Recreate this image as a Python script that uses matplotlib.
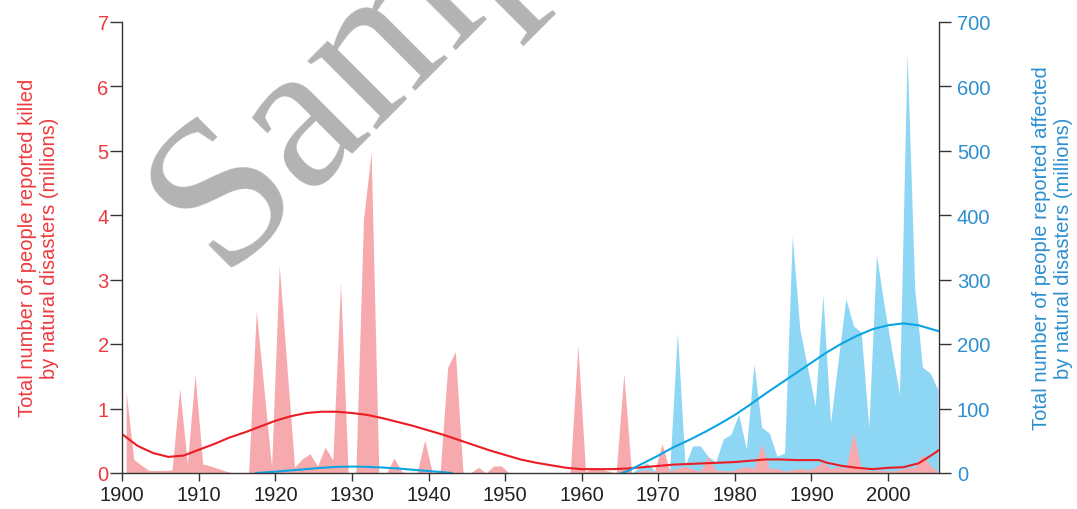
import numpy as np
import matplotlib.pyplot as plt

plt.rcParams['font.family'] = ['Liberation Sans', 'DejaVu Sans']

# anos (dados anuais, desenhados no meio do ano)
years = np.arange(1900, 2007)

# mortos (milhões) por ano, 1900-2006
killed = [
    1.26, 0.21, 0.12, 0.04, 0.04, 0.04, 0.05, 1.31, 0.14, 1.53,   # 1900s
    0.14, 0.11, 0.07, 0.03, 0.00, 0.00, 0.00, 2.51, 1.30, 0.09,   # 1910s
    3.22, 1.65, 0.09, 0.22, 0.30, 0.11, 0.40, 0.20, 2.95, 0.00,   # 1920s
    0.00, 3.93, 4.97, 0.00, 0.00, 0.23, 0.02, 0.00, 0.00, 0.51,   # 1930s
    0.00, 0.00, 1.64, 1.88, 0.00, 0.00, 0.09, 0.00, 0.11, 0.11,   # 1940s
    0.00, 0.00, 0.00, 0.00, 0.00, 0.00, 0.00, 0.00, 0.00, 1.98,   # 1950s
    0.02, 0.08, 0.06, 0.03, 0.00, 1.54, 0.00, 0.03, 0.05, 0.02,   # 1960s
    0.45, 0.03, 0.07, 0.11, 0.06, 0.03, 0.26, 0.04, 0.04, 0.03,   # 1970s
    0.07, 0.10, 0.07, 0.45, 0.07, 0.07, 0.03, 0.05, 0.07, 0.05,   # 1980s
    0.08, 0.17, 0.07, 0.10, 0.07, 0.63, 0.07, 0.04, 0.04, 0.04,   # 1990s
    0.03, 0.05, 0.08, 0.08, 0.29, 0.12, 0.02,                     # 2000s
]

# afetados (milhões) por ano, 1900-2006
affected = [
    0, 0, 0, 0, 0, 0, 0, 0, 0, 0,                     # 1900s
    0, 0, 0, 0, 0, 0, 0, 0, 0, 0,                     # 1910s
    14, 0, 0, 10, 0, 0, 0, 0, 0, 0,                   # 1920s
    0, 18, 0, 0, 0, 0, 0, 0, 0, 0,                    # 1930s
    0, 0, 0, 0, 0, 0, 0, 0, 0, 5,                     # 1940s
    0, 0, 0, 0, 0, 0, 0, 0, 0, 0,                     # 1950s
    0, 0, 0, 0, 0, 0, 0, 8, 16, 4,                    # 1960s
    4, 6, 218, 12, 42, 42, 26, 17, 53, 60,            # 1970s
    91, 37, 169, 71, 62, 26, 31, 367, 222, 163,       # 1980s
    104, 276, 78, 175, 270, 228, 218, 71, 338, 260,   # 1990s
    190, 122, 651, 285, 164, 155, 130,                # 2000s
]

# linha de tendência dos mortos
trend_k_years = [1900, 1902, 1904, 1906, 1908, 1910, 1912, 1914, 1916, 1918,
                 1920, 1922, 1924, 1926, 1928, 1930, 1932, 1934, 1936, 1938,
                 1940, 1942, 1944, 1946, 1948, 1950, 1952, 1954, 1956, 1958,
                 1960, 1962, 1964, 1966, 1968, 1970, 1972, 1974, 1976, 1978,
                 1980, 1982, 1984, 1986, 1988, 1990, 1991, 1992, 1994, 1996,
                 1998, 2000, 2002, 2004, 2006, 2006.6]
trend_killed = [0.60, 0.42, 0.31, 0.25, 0.27, 0.36, 0.45, 0.55, 0.63, 0.72,
                0.81, 0.88, 0.93, 0.95, 0.95, 0.93, 0.90, 0.85, 0.79, 0.73,
                0.66, 0.59, 0.51, 0.43, 0.35, 0.28, 0.21, 0.16, 0.12, 0.08,
                0.06, 0.06, 0.06, 0.07, 0.09, 0.11, 0.13, 0.14, 0.15, 0.16,
                0.17, 0.19, 0.21, 0.21, 0.20, 0.20, 0.20, 0.16, 0.11, 0.08,
                0.06, 0.08, 0.09, 0.15, 0.30, 0.35]

# linha de tendência dos afetados (nan = trecho não desenhado)
trend_a_years = [1917.5, 1920, 1922, 1924, 1926, 1928, 1930, 1932, 1934, 1936,
                 1938, 1940, 1942, 1943, 1954, 1965.2, 1966, 1968, 1970, 1972,
                 1974, 1976, 1978, 1980, 1982, 1984, 1986, 1988, 1990, 1992,
                 1994, 1996, 1998, 2000, 2002, 2004, 2006, 2006.6]
trend_affected = [0, 2, 4, 6, 8, 9.5, 10, 9.5, 8.5, 7,
                  5, 3, 1.2, 0, np.nan, 0, 3, 15, 27, 40,
                  51, 63, 76, 90, 106, 123, 139, 155, 171, 187,
                  201, 213, 223, 229, 232, 229, 222, 220]

pink = '#f6aaad'
sky = '#8dd7f5'
red = '#ec1c24'
blue_line = '#0aa5e2'
red_txt = '#ee3a3f'
blue_txt = '#2c8fcf'
dark = '#333333'

fig = plt.figure(figsize=(10.77, 5.10), dpi=100)
ax = fig.add_axes([122.3 / 1077, 1 - 474 / 510, (938.5 - 122.3) / 1077, (474 - 22.5) / 510])
ax2 = ax.twinx()
ax2.set_zorder(0)
ax.set_zorder(1)
ax.patch.set_visible(False)

x = years + 0.5
ax2.fill_between(x, affected, 0, color=sky, lw=0)
ax.fill_between(x, killed, 0, color=pink, lw=0)
ax.plot(trend_k_years, trend_killed, color=red, lw=1.5)
ax.plot(trend_a_years, trend_affected, color=blue_line, lw=1.5, transform=ax2.transData)

ax.set_xlim(1900, 2006.6)
ax.set_ylim(0, 7)
ax2.set_ylim(0, 700)
ax.set_xticks(range(1900, 2001, 10))
ax.set_yticks(range(0, 8))
ax2.set_yticks(range(0, 701, 100))

for s in ['top', 'right']:
    ax.spines[s].set_visible(False)
for s in ['top', 'left', 'bottom']:
    ax2.spines[s].set_visible(False)
for s in ['left', 'bottom']:
    ax.spines[s].set_color(dark)
    ax.spines[s].set_linewidth(1)
ax2.spines['right'].set_color(dark)
ax2.spines['right'].set_linewidth(1)

ax.tick_params(axis='x', length=5.8, width=1, color=dark, labelcolor='#222222',
               labelsize=14.5, pad=3)
ax.tick_params(axis='y', length=8.3, width=1, color=dark, labelcolor=red_txt,
               labelsize=14.5, pad=1.5)
ax2.tick_params(axis='y', length=8.3, width=1, color=dark, labelcolor=blue_txt,
                labelsize=14.5, pad=5)

ax.set_ylabel('Total number of people reported killed\nby natural disasters (millions)',
              color=red_txt, fontsize=14.5, labelpad=28)
ax2.set_ylabel('Total number of people reported affected\nby natural disasters (millions)',
               color=blue_txt, fontsize=14.5, labelpad=30, rotation=90, va='top')

# marca d'água
fig.text(221 / 1077, 1 - 271 / 510, 'Sample', rotation=45, rotation_mode='anchor',
         ha='left', va='baseline', fontsize=152, family='Liberation Serif',
         color='#b3b3b3', zorder=10)

fig.savefig('out.png', dpi=100)
